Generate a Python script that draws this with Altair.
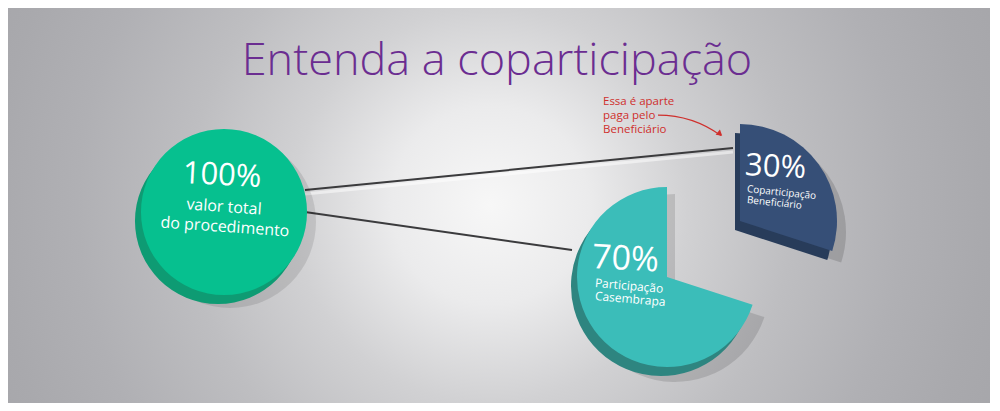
import math
import altair as alt
import pandas as pd

# ---------------- data ----------------
title_text = "Entenda a coparticipação"
keys = ["total", "casembrapa", "beneficiario"]
shares = [100, 70, 30]
line1 = ["valor total", "Participação", "Coparticipação"]
line2 = ["do procedimento", "Casembrapa", "Beneficiário"]
note_lines = ["Essa é aparte", "paga pelo", "Beneficiário"]

df = pd.DataFrame({"key": keys, "share": shares, "l1": line1, "l2": line2})
df["pct"] = df["share"].astype(str) + "%"
# angular extents: beneficiary slice starts at 12 o'clock, Casembrapa part follows
df["start"] = [0, shares[2], 0]
df["end"] = [shares[0], shares[2] + shares[1], shares[2]]

W, H = 984, 395
FONT = "Open Sans"
theta_scale = alt.Scale(domain=[0, 100], range=[0, 2 * math.pi])
base = alt.Chart(df)
one = alt.Chart(pd.DataFrame({"a": [0]}))


def px(v):
    return v - 8


def wedge(key, cx, cy, r, color, opacity=1.0):
    return base.transform_filter(alt.datum.key == key).mark_arc(
        radius=r, color=color, opacity=opacity
    ).encode(
        theta=alt.Theta("start:Q", scale=theta_scale, stack=None),
        theta2="end:Q",
        x=alt.value(px(cx)),
        y=alt.value(px(cy)),
    )


def label(key, field, x, y, size, align="center", angle=0, weight="normal"):
    return base.transform_filter(alt.datum.key == key).mark_text(
        font=FONT, fontSize=size, color="white", align=align, baseline="middle",
        angle=angle, fontWeight=weight
    ).encode(text=f"{field}:N", x=alt.value(px(x)), y=alt.value(px(y)))


def rule(x1, y1, x2, y2, color, width, opacity=1.0):
    return one.mark_rule(color=color, strokeWidth=width, opacity=opacity).encode(
        x=alt.value(px(x1)), y=alt.value(px(y1)), x2=alt.value(px(x2)), y2=alt.value(px(y2))
    )


# square background so the radial gradient is circular in pixels; centre at ~(490, 205)
bg = one.mark_rect(
    color=alt.RadialGradient(
        gradient="radial", x1=0.5, y1=0.5, x2=0.5, y2=0.5, r1=0, r2=0.55,
        stops=[alt.GradientStop(offset=0, color="#f7f7f7"),
               alt.GradientStop(offset=0.18, color="#ebebec"),
               alt.GradientStop(offset=0.36, color="#d1d1d3"),
               alt.GradientStop(offset=0.55, color="#bebec1"),
               alt.GradientStop(offset=0.75, color="#b0b0b4"),
               alt.GradientStop(offset=0.9, color="#a9a9ad"),
               alt.GradientStop(offset=1, color="#a6a6aa")],
    )
).encode(x=alt.value(px(-10)), x2=alt.value(px(990)), y=alt.value(px(-295)), y2=alt.value(px(705)))

title = one.mark_text(
    text=title_text, font=FONT, fontSize=45, fontWeight=300, color="#6b2d91",
    align="center", baseline="alphabetic"
).encode(x=alt.value(px(497)), y=alt.value(px(75)))

lines = [
    rule(305, 194, 733, 152, "#ffffff", 3, 0.5),
    rule(305, 190, 733, 148, "#3b3b3d", 2),
    rule(305, 212, 572, 250, "#3b3b3d", 2),
]

shadows = [
    wedge("total", 230, 222, 86, "#000000", 0.10),
    wedge("casembrapa", 675, 288, 94, "#000000", 0.12),
    wedge("beneficiario", 747, 232, 99, "#000000", 0.14),
]

green = [
    wedge("total", 218, 221, 83, "#0e9b73"),
    wedge("total", 224, 212, 83, "#06c08f"),
]
teal = [
    wedge("casembrapa", 661, 286, 90, "#2e8580"),
    wedge("casembrapa", 667, 277, 90, "#3bbdb9"),
]
navy = [
    wedge("beneficiario", 735, 230, 97, "#283c5a"),
    wedge("beneficiario", 740, 221, 97, "#364f77"),
]

texts = [
    label("total", "pct", 222, 176, 31, angle=3),
    label("total", "l1", 224, 207, 16, angle=4),
    label("total", "l2", 225, 227, 16, angle=4),
    label("casembrapa", "pct", 592, 258, 34, align="left", angle=3),
    label("casembrapa", "l1", 595, 283, 12, align="left", angle=5),
    label("casembrapa", "l2", 595, 296, 12, align="left", angle=5),
    label("beneficiario", "pct", 745, 166, 31, align="left", angle=3),
    label("beneficiario", "l1", 747, 189, 10, align="left", angle=6),
    label("beneficiario", "l2", 747, 200, 10, align="left", angle=6),
]

note = one.mark_text(
    text=note_lines, font=FONT, fontSize=11.5, color="#cf2f2c", align="left",
    baseline="top", lineHeight=14
).encode(x=alt.value(px(603)), y=alt.value(px(96)))

arrow_curve = one.mark_arc(
    theta=0, theta2=0.63, radius=107.5, radius2=106.3, color="#cf2f2c"
).encode(x=alt.value(px(658)), y=alt.value(px(222)))

arrow_head = one.mark_point(
    shape="triangle-right", angle=40, size=45, filled=True, color="#cf2f2c", opacity=1
).encode(x=alt.value(px(720)), y=alt.value(px(134)))

chart = alt.layer(
    bg, title, *lines, *shadows, *green, *teal, *navy, *texts, note, arrow_curve, arrow_head
).properties(
    width=W, height=H, autosize=alt.AutoSizeParams(type="none"), padding=0
).configure_view(strokeWidth=0)

chart.save("out.html", embed_options={"renderer": "svg", "actions": False})
